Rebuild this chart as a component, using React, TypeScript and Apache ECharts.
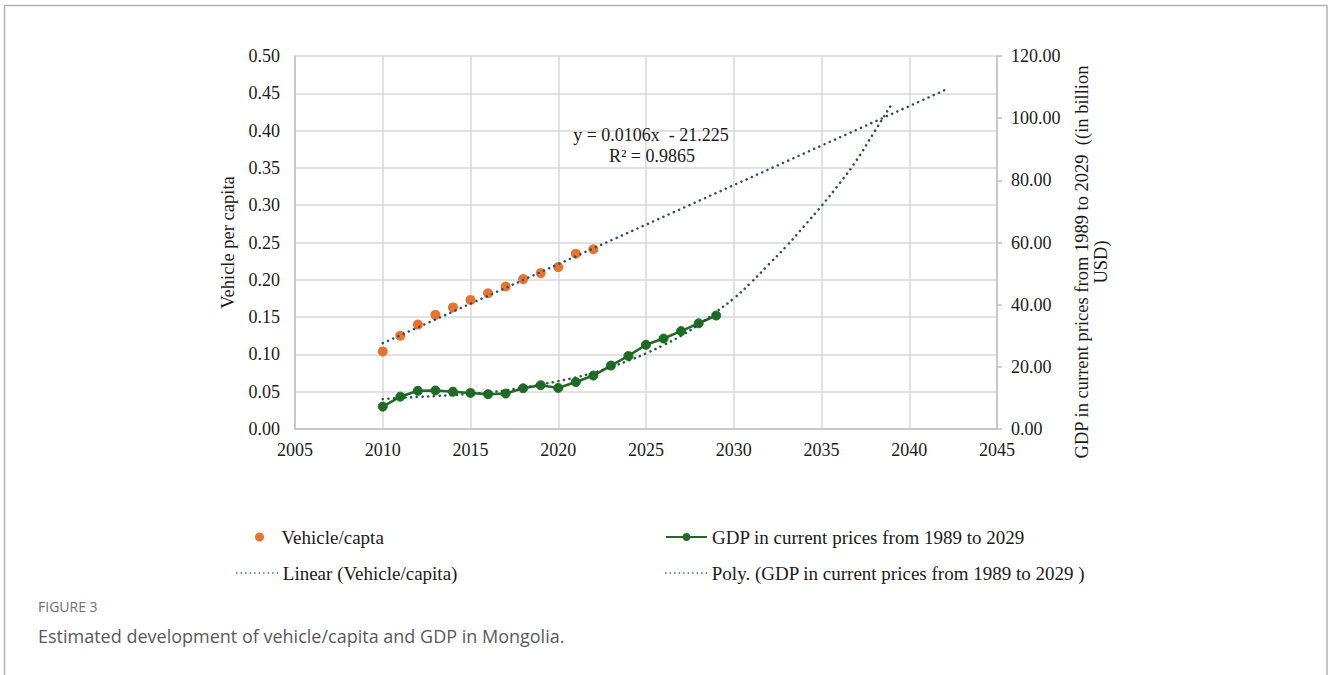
import React, { useEffect, useRef } from "react";
import * as echarts from "echarts";

// ---------- data ----------
const vehicleYears = [2010, 2011, 2012, 2013, 2014, 2015, 2016, 2017, 2018, 2019, 2020, 2021, 2022];
const vehiclePerCapita = [0.104, 0.125, 0.140, 0.153, 0.163, 0.173, 0.182, 0.191, 0.201, 0.209, 0.217, 0.235, 0.241];

const gdpYears = [2010, 2011, 2012, 2013, 2014, 2015, 2016, 2017, 2018, 2019, 2020, 2021, 2022, 2023, 2024, 2025, 2026, 2027, 2028, 2029];
const gdpValues = [7.2, 10.4, 12.3, 12.4, 12.0, 11.6, 11.2, 11.4, 13.1, 14.1, 13.2, 15.1, 17.2, 20.4, 23.5, 27.1, 29.1, 31.5, 34.0, 36.5];

const linearTrendYears = [2010, 2042];
const linearTrendValues = [0.115, 0.454];

const polyTrendYears = [2010, 2011, 2012, 2013, 2014, 2015, 2016, 2017, 2018, 2019, 2020, 2021, 2022, 2023, 2024, 2025, 2026, 2027, 2028, 2029, 2030, 2031, 2032, 2033, 2034, 2035, 2036, 2037, 2038, 2039];
const polyTrendValues = [9.6, 10.0, 10.3, 10.6, 10.9, 11.3, 11.8, 12.4, 13.3, 14.3, 15.4, 16.6, 18.1, 19.9, 22.0, 24.3, 27.0, 30.0, 33.6, 37.7, 42.0, 47.2, 53.0, 58.8, 65.2, 71.8, 78.8, 86.5, 95.5, 104.5];

const xAxisRange = { min: 2005, max: 2045, interval: 5 };
const leftAxisRange = { min: 0, max: 0.5, interval: 0.05 };
const rightAxisRange = { min: 0, max: 120, interval: 20 };

const seriesNames = {
  vehicle: "Vehicle/capta",
  gdp: "GDP in current prices from 1989 to 2029",
  linear: "Linear (Vehicle/capita)",
  poly: "Poly. (GDP in current prices from 1989 to 2029 )",
};

const trendEquation = "y = 0.0106x  - 21.225";
const trendR2 = "R² = 0.9865";
const leftAxisName = "Vehicle per capita";
const rightAxisName = "GDP in current prices from 1989 to 2029  ((in billion\nUSD)";
const figureLabel = "FIGURE 3";
const figureCaption = "Estimated development of vehicle/capita and GDP in Mongolia.";

const zip = (xs: number[], ys: number[]) => xs.map((x, i) => [x, ys[i]]);

const SERIF = "'Liberation Serif', 'Times New Roman', serif";
const SANS = "'Open Sans', 'Noto Sans', sans-serif";
const ORANGE = "#e8732f";
const GREEN = "#1f6b25";
const NAVY = "#2a4d6e";
const DKGREEN = "#1f5a30";
const GRID = "#d9d9d9";
const AXIS = "#bfbfbf";
const TEXT = "#1a1a1a";

export default function App() {
  const ref = useRef<HTMLDivElement>(null);

  useEffect(() => {
    if (!ref.current) return;
    const chart = echarts.init(ref.current, undefined, { renderer: "svg" });

    const legendBase = {
      orient: "horizontal",
      padding: 0,
      selectedMode: false,
      textStyle: { fontFamily: SERIF, fontSize: 19, color: TEXT, lineHeight: 20 },
    };

    const option: any = {
      animation: false,
      backgroundColor: "#ffffff",
      grid: { left: 295, top: 56, width: 702, height: 373, containLabel: false },
      xAxis: {
        type: "value",
        min: xAxisRange.min,
        max: xAxisRange.max,
        interval: xAxisRange.interval,
        axisLine: { show: true, lineStyle: { color: AXIS, width: 1.5 } },
        axisTick: { show: false },
        axisLabel: { margin: 12, fontFamily: SERIF, fontSize: 18, color: TEXT, formatter: (v: number) => String(v) },
        splitLine: { show: true, lineStyle: { color: GRID, width: 1.5 } },
      },
      yAxis: [
        {
          type: "value",
          position: "left",
          min: leftAxisRange.min,
          max: leftAxisRange.max,
          interval: leftAxisRange.interval,
          name: leftAxisName,
          nameLocation: "middle",
          nameGap: 56,
          nameTextStyle: { fontFamily: SERIF, fontSize: 18.5, color: TEXT },
          axisLine: { show: true, lineStyle: { color: AXIS, width: 1.5 } },
          axisTick: { show: false },
          axisLabel: { margin: 15, fontFamily: SERIF, fontSize: 18, color: TEXT, formatter: (v: number) => v.toFixed(2) },
          splitLine: { show: true, lineStyle: { color: GRID, width: 1.5 } },
        },
        {
          type: "value",
          position: "right",
          min: rightAxisRange.min,
          max: rightAxisRange.max,
          interval: rightAxisRange.interval,
          axisLine: { show: true, lineStyle: { color: AXIS, width: 1.5 } },
          axisTick: { show: true, inside: false, length: 5, lineStyle: { color: AXIS, width: 1.5 } },
          axisLabel: { margin: 14, fontFamily: SERIF, fontSize: 18, color: TEXT, formatter: (v: number) => v.toFixed(2) },
          splitLine: { show: false },
        },
      ],
      legend: [
        {
          ...legendBase,
          left: 255,
          top: 527,
          itemWidth: 34,
          itemHeight: 9,
          icon: "circle",
          itemStyle: { opacity: 1 },
          data: [seriesNames.vehicle],
        },
        {
          ...legendBase,
          left: 665,
          top: 527,
          itemWidth: 41,
          itemHeight: 10,
          data: [seriesNames.gdp],
        },
        {
          ...legendBase,
          left: 236,
          top: 563,
          itemWidth: 41,
          itemHeight: 10,
          data: [
            {
              name: seriesNames.linear,
              itemStyle: { opacity: 0 },
              lineStyle: { width: 1.6, type: [0.1, 4.4], cap: "round", color: NAVY },
            },
          ],
        },
        {
          ...legendBase,
          left: 665,
          top: 563,
          itemWidth: 41,
          itemHeight: 10,
          data: [
            {
              name: seriesNames.poly,
              itemStyle: { opacity: 0 },
              lineStyle: { width: 1.6, type: [0.1, 4.4], cap: "round", color: DKGREEN },
            },
          ],
        },
      ],
      series: [
        {
          name: seriesNames.vehicle,
          type: "scatter",
          yAxisIndex: 0,
          symbol: "circle",
          symbolSize: 10,
          itemStyle: { color: ORANGE, opacity: 1 },
          data: zip(vehicleYears, vehiclePerCapita),
          z: 3,
        },
        {
          name: seriesNames.gdp,
          type: "line",
          yAxisIndex: 1,
          symbol: "circle",
          symbolSize: 9,
          showSymbol: true,
          lineStyle: { color: GREEN, width: 2.6 },
          itemStyle: { color: GREEN, borderColor: GREEN },
          data: zip(gdpYears, gdpValues),
          z: 3,
        },
        {
          name: seriesNames.linear,
          type: "line",
          yAxisIndex: 0,
          symbol: "none",
          lineStyle: { color: NAVY, width: 2.5, type: [0.1, 5.6], cap: "round" },
          itemStyle: { color: NAVY },
          data: zip(linearTrendYears, linearTrendValues),
          z: 4,
        },
        {
          name: seriesNames.poly,
          type: "line",
          yAxisIndex: 1,
          symbol: "none",
          smooth: true,
          lineStyle: { color: DKGREEN, width: 2.5, type: [0.1, 5.6], cap: "round" },
          itemStyle: { color: DKGREEN },
          data: zip(polyTrendYears, polyTrendValues),
          z: 4,
        },
      ],
      graphic: [
        {
          type: "rect",
          silent: true,
          shape: { x: 4.5, y: 5.5, width: 1322.5, height: 720 },
          style: { fill: "none", stroke: "#b3b3b3", lineWidth: 1.5 },
          z: 0,
        },
        {
          type: "text",
          x: 651,
          y: 135,
          style: { text: trendEquation, textAlign: "center", textVerticalAlign: "middle", font: `18px ${SERIF}`, fill: TEXT },
          z: 10,
        },
        {
          type: "text",
          x: 652,
          y: 156,
          style: { text: trendR2, textAlign: "center", textVerticalAlign: "middle", font: `18px ${SERIF}`, fill: TEXT },
          z: 10,
        },
        {
          type: "text",
          x: 1091,
          y: 262,
          rotation: Math.PI / 2,
          style: {
            text: rightAxisName,
            textAlign: "center",
            textVerticalAlign: "middle",
            font: `18.5px ${SERIF}`,
            lineHeight: 19,
            fill: TEXT,
          },
          z: 10,
        },
        {
          type: "text",
          x: 38,
          y: 606,
          style: { text: figureLabel, textAlign: "left", textVerticalAlign: "middle", font: `14px ${SANS}`, fill: "#6d6e71" },
        },
        {
          type: "text",
          x: 38,
          y: 636,
          style: { text: figureCaption, textAlign: "left", textVerticalAlign: "middle", font: `18px ${SANS}`, fill: "#58595b" },
        },
      ],
    };

    chart.setOption(option);
    return () => chart.dispose();
  }, []);

  return (
    <div
      ref={ref}
      style={{ position: "absolute", left: 0, top: 0, width: 1328, height: 675, background: "#fff" }}
    />
  );
}
